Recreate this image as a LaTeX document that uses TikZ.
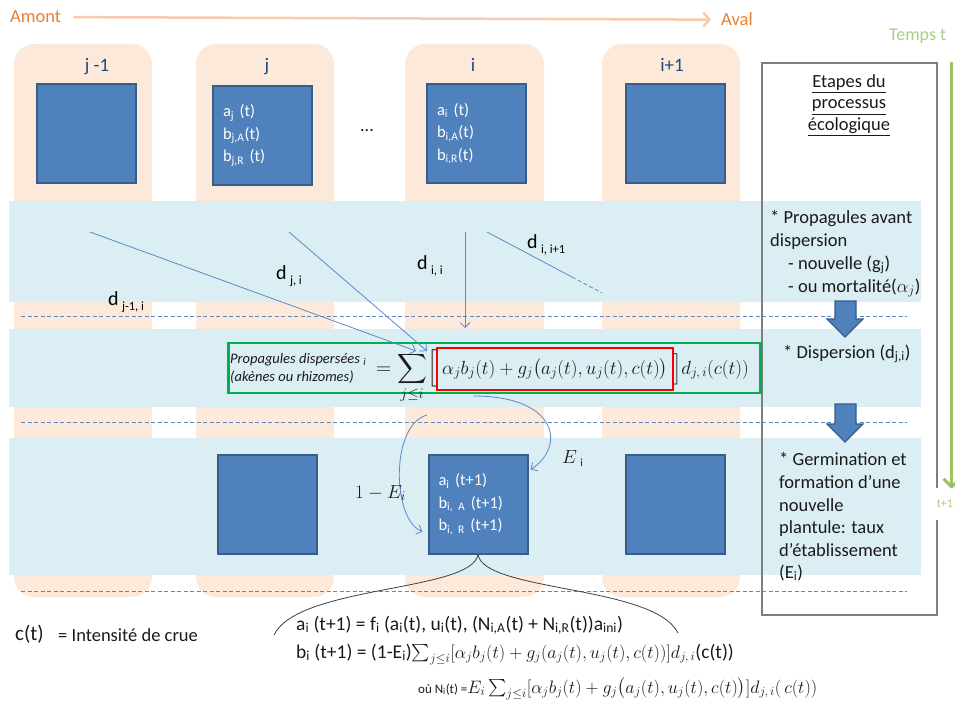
\RequirePackage{fix-cm}
\documentclass[tikz,border=0pt]{standalone}
\usepackage{amsmath}
\usepackage[no-math]{fontspec}
\setmainfont{Carlito}
\usetikzlibrary{arrows.meta,calc}
\definecolor{peach}{HTML}{FDE9D9}
\definecolor{bandc}{HTML}{DBEEF4}
\definecolor{sqfill}{HTML}{4F81BD}
\definecolor{sqline}{HTML}{385D8A}
\definecolor{orangetxt}{HTML}{ED7D31}
\definecolor{orangeln}{HTML}{F8CBAD}
\definecolor{greent}{HTML}{A9CD86}
\definecolor{greenarr}{HTML}{9BC364}
\definecolor{darkblue}{HTML}{1F497D}
\definecolor{grayln}{HTML}{7F7F7F}
\definecolor{greenbox}{HTML}{00B050}
\definecolor{connblue}{HTML}{5A8AC6}
\definecolor{txtdark}{HTML}{1A1A1A}
\newcommand{\myfs}[2]{\fontsize{#1}{#2}\selectfont}
\newcommand{\sbs}[1]{\textsubscript{#1}}
\begin{document}
\begin{tikzpicture}[x=1pt,y=-1pt,
  sq/.style={draw=sqline, fill=sqfill, line width=2pt, minimum width=99pt, minimum height=99pt,
    inner sep=0pt, text=white, font=\myfs{16.5}{22.5}, text width=79pt, align=left},
  collabel/.style={anchor=base, inner sep=0pt, text=darkblue, font=\myfs{19}{22}},
  dlab/.style={anchor=base west, inner sep=0pt, text=black, font=\myfs{20}{24}},
  conn/.style={draw=connblue, line width=0.8pt, -{Straight Barb[length=5pt,width=10pt]}},
  dashln/.style={draw=connblue, line width=0.8pt, dash pattern=on 4pt off 2.5pt},
  steptxt/.style={anchor=base west, inner sep=0pt, text=txtdark, font=\myfs{18.5}{23}},
  formtxt/.style={anchor=base west, inner sep=0pt, text=txtdark, font=\myfs{19.5}{22}},
  colbg/.style={fill=peach, rounded corners=20pt},
  bandbg/.style={fill=bandc},
  blockarr/.style={fill=sqfill, draw=sqline, line width=1.2pt}
]
\useasboundingbox (0,0) rectangle (955,701);
% column backgrounds
\fill[colbg] (14,44) rectangle (152,597);
\fill[colbg] (196,44) rectangle (334,597);
\fill[colbg] (405,44) rectangle (544,597);
\fill[colbg] (602,44) rectangle (740,597);
% horizontal bands
\fill[bandbg] (9,201) rectangle (921,302);
\fill[bandbg] (9,329) rectangle (921,407);
\fill[bandbg] (9,438) rectangle (921,575);
% dashed separators
\draw[dashln] (21,316) -- (907,316);
\draw[dashln] (21,422) -- (907,422);
\draw[dashln] (21,591) -- (907,591);
% title arrow
\node[anchor=base west, inner sep=0pt, text=orangetxt, font=\myfs{18.5}{22}] (amont) at (10,23) {Amont};
\node[anchor=base west, inner sep=0pt, text=orangetxt, font=\myfs{18.5}{22}] (aval) at (721,26) {Aval};
\draw[orangeln, line width=2.5pt, -{Straight Barb[length=6pt,width=14pt]}]
  ([xshift=12pt]amont.east) -- ([xshift=-10pt]aval.west);
% time
\node[anchor=base west, inner sep=0pt, text=greent, font=\myfs{18}{22}] (temps) at (889,41) {Temps t};
\coordinate (gtop) at (951.5,62);
\coordinate (gbot) at (951.5,489);
% steps box
\node[draw=grayln, line width=2.5pt, minimum width=175pt, minimum height=552pt, inner sep=0pt] (stepsbox) at (849.5,339) {};
\draw[greenarr, line width=3pt, -{Straight Barb[length=8pt,width=16pt]}] (gtop) -- (gbot);
\node[fill=white, text=greent, font=\myfs{12}{14}, inner sep=0pt, minimum width=20pt, minimum height=32pt] (tp1) at (945,504) {t+1};
% column labels
\node[collabel] (ljm1) at (97,71) {j -1};
\node[collabel] (lj) at (267,71) {j};
\node[collabel] (li) at (473,71) {i};
\node[collabel] (lip1) at (672,71) {i+1};
\node[anchor=base, inner sep=0pt, text=txtdark, font=\myfs{18}{22}] (dots) at (367,131) {...};
% squares
\node[sq] (bjm1) at (86.5,133.5) {};
\node[sq] (bj) at (262.5,135.5) {a\sbs{j} (t)\\ b\sbs{j,A}(t)\\ b\sbs{j,R} (t)};
\node[sq] (bi) at (476.5,133.5) {a\sbs{i} (t)\\ b\sbs{i,A}(t)\\ b\sbs{i,R}(t)};
\node[sq] (bip1) at (675,133.5) {};
\node[sq] (bj2) at (267.5,504.5) {};
\node[sq] (bi2) at (478,504) {a\sbs{i} (t+1)\\ b\sbs{i, A} (t+1)\\ b\sbs{i, R} (t+1)};
\node[sq] (bip12) at (675,504.5) {};
% steps text
\node[anchor=base, inner sep=0pt, text=txtdark, font=\myfs{18.5}{22}] (et1) at (849,87) {\underline{Etapes du}};
\node[anchor=base, inner sep=0pt, text=txtdark, font=\myfs{18.5}{22}] (et2) at (849,108.5) {\underline{processus}};
\node[anchor=base, inner sep=0pt, text=txtdark, font=\myfs{18.5}{22}] (et3) at (849,130) {\underline{écologique}};
\node[steptxt] (s1a) at (770,223) {* Propagules avant};
\node[steptxt] (s1b) at (770,246) {dispersion};
\node[steptxt] (s1c) at (788,269) {- nouvelle (g\sbs{j})};
\node[steptxt] (s1d) at (788,292) {- ou mortalité($\alpha_j$)};
\node[steptxt] (s2) at (783,358) {* Dispersion (d\sbs{j,i})};
\node[steptxt] (s3a) at (779,465) {* Germination et};
\node[steptxt] (s3b) at (779,488) {formation d’une};
\node[steptxt] (s3c) at (779,511) {nouvelle};
\node[steptxt] (s3d) at (779,533) {plantule: taux};
\node[steptxt] (s3e) at (779,556) {d’établissement};
\node[steptxt] (s3f) at (779,578) {(E\sbs{i})};
% block arrows
\filldraw[blockarr] (835,301) -- (856,301) -- (856,319) -- (863,319) -- (845,337) -- (827,319) -- (835,319) -- cycle;
\filldraw[blockarr] (835,404) -- (856,404) -- (856,424) -- (863,424) -- (845,442) -- (827,424) -- (835,424) -- cycle;
% green & red formula boxes
\node[draw=greenbox, line width=2.4pt, minimum width=532pt, minimum height=50pt, inner sep=0pt] (gbox) at (494.5,368) {};
\node[draw=red, line width=2.8pt, minimum width=236pt, minimum height=42pt, inner sep=0pt] (redbox) at (555,369) {};
\node[anchor=base west, align=left, inner sep=0pt, text=txtdark, font=\myfs{14.5}{18}\itshape] (propl) at (230,381) {Propagules dispersées \sbs{i}\\(akènes ou rhizomes)};
\node[anchor=base east, inner sep=0pt, text=txtdark, font=\myfs{21}{24}] (eqsum) at (437,374) {$=\displaystyle\sum_{j\le i}\Bigl[$};
\node[anchor=base, inner sep=0pt, text=txtdark, font=\myfs{19}{22}] (redtxt) at (555,374) {$\alpha_j b_j(t)+g_j\bigl(a_j(t),u_j(t),c(t)\bigr)$};
\node[anchor=base west, inner sep=0pt, text=txtdark, font=\myfs{19}{22}] (rhs) at (673,374) {$\Bigr]d_{j,\,i}(c(t))$};
% dispersal connectors
\coordinate (sjm1) at (90,232);   \coordinate (ejm1) at (416,351);
\coordinate (sj) at (289,232);    \coordinate (ej) at (427,351);
\coordinate (si) at (465,232);    \coordinate (ei) at (465,328);
\coordinate (sip) at (487,232);   \coordinate (mip) at (572,277);  \coordinate (eip) at (602,293);
\draw[conn] (sjm1) -- (ejm1);
\draw[conn] (sj) -- (ej);
\draw[conn] (si) -- (ei);
\draw[draw=connblue, line width=0.8pt] (sip) -- (mip);
\draw[dashln] (mip) -- (eip);
\node[dlab] (djm1) at (108,305) {d\,\raisebox{-5pt}{\myfs{12.5}{14}j-1, i}};
\node[dlab] (dj) at (276,279) {d\,\raisebox{-5pt}{\myfs{12.5}{14}j, i}};
\node[dlab] (dii) at (417,269) {d\,\raisebox{-5pt}{\myfs{12.5}{14}i, i}};
\node[dlab] (dip) at (527,248) {d\,\raisebox{-5pt}{\myfs{12.5}{14}i, i+1}};
% establishment arrows
\coordinate (es) at (473,396);
\coordinate (nes) at (427,415);
\draw[conn] (es) .. controls (560,396) and (565,448) .. ($(bi2.north east)+(2,16)$);
\draw[conn] (nes) .. controls (390,425) and (392,520) .. ($(bi2.south west)+(-5,-23)$);
\node[anchor=base west, inner sep=0pt, text=txtdark, font=\myfs{19}{22}] (elab) at (562,463) {$E$\,\raisebox{-3pt}{\myfs{11}{12}i}};
\node[anchor=base west, inner sep=0pt, text=txtdark, font=\myfs{19}{22}] (nelab) at (355,498) {$1-E_i$};
% brace
\coordinate (bl) at (274,635);
\coordinate (br) at (678,633);
\draw[draw=black!75, line width=0.8pt] (bi2.south) .. controls (472,592) and (298,585) .. (bl);
\draw[draw=black!75, line width=0.8pt] (bi2.south) .. controls (484,592) and (654,585) .. (br);
% bottom formulas
\node[anchor=base west, inner sep=0pt, text=txtdark, font=\myfs{21}{24}] (ct) at (15,640) {c(t)};
\node[anchor=base west, inner sep=0pt, text=txtdark, font=\myfs{18.5}{22}] (ctdef) at (58,641) {= Intensité de crue};
\node[formtxt] (aeq) at (296,630) {a\sbs{i} (t+1) = f\sbs{i} (a\sbs{i}(t), u\sbs{i}(t), (N\sbs{i,A}(t) + N\sbs{i,R}(t))a\sbs{ini})};
\node[formtxt] (beq) at (296,658) {b\sbs{i} (t+1) = (1-E\sbs{i}){\myfs{18}{20}\smash{$\sum_{j\le i}[\alpha_j b_j(t)+g_j(a_j(t),u_j(t),c(t))]d_{j,\,i}$}}(c(t))};
\node[anchor=base west, inner sep=0pt, text=txtdark, font=\myfs{13}{15}] (neq) at (418,693) {où N\sbs{i}(t) =\myfs{18}{20}$E_i\sum_{j\le i}[\alpha_j b_j(t)+g_j\bigl(a_j(t),u_j(t),c(t)\bigr)]d_{j,\,i}(\,c(t))$};
\end{tikzpicture}
\end{document}
